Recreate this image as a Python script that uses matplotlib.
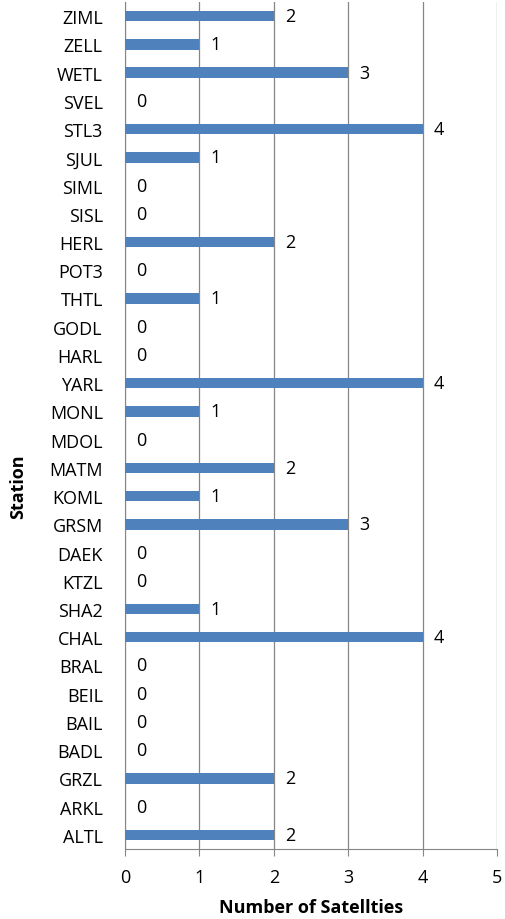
import matplotlib
matplotlib.use("Agg")
import matplotlib.pyplot as plt

stations = ["ALTL", "ARKL", "GRZL", "BADL", "BAIL", "BEIL", "BRAL", "CHAL", "SHA2", "KTZL",
            "DAEK", "GRSM", "KOML", "MATM", "MDOL", "MONL", "YARL", "HARL", "GODL", "THTL",
            "POT3", "HERL", "SISL", "SIML", "SJUL", "STL3", "SVEL", "WETL", "ZELL", "ZIML"]
satellites = [2, 0, 2, 0, 0, 0, 0, 4, 1, 0,
              0, 3, 1, 2, 0, 1, 4, 0, 0, 1,
              0, 2, 0, 0, 1, 4, 0, 3, 1, 2]
xticks = [0, 1, 2, 3, 4, 5]

plt.rcParams['font.family'] = ['Open Sans', 'DejaVu Sans']
FS = 13

fig = plt.figure(figsize=(5.06, 9.2), dpi=100)
ax = fig.add_axes([125/506, 70/920, 372/506, 847/920])

y = list(range(len(stations)))
ax.barh(y, satellites, height=0.37, color="#4F81BD", zorder=3)
for yi, v in zip(y, satellites):
    ax.annotate(str(v), xy=(v, yi), xytext=(8, 0), textcoords="offset points",
                va="center", ha="left", fontsize=FS, color="black")

ax.set_xlim(0, 5)
ax.set_ylim(-0.5, len(stations) - 0.5)
ax.set_xticks(xticks)
ax.set_yticks(y)
ax.set_yticklabels(stations, fontsize=FS)
ax.tick_params(axis='x', labelsize=FS, length=5, color="#868686", pad=9)
ax.tick_params(axis='y', length=0, pad=16)
ax.grid(axis='x', color="#868686", linewidth=0.9, zorder=0)
for s in ["top", "right"]:
    ax.spines[s].set_visible(False)
ax.spines["left"].set_color("#868686")
ax.spines["bottom"].set_color("#868686")

ax.set_xlabel("Number of Satellties", fontsize=FS, fontweight="bold", va="center")
ax.xaxis.set_label_coords(0.5, -0.0685)
ax.set_ylabel("Station", fontsize=FS, fontweight="bold", va="center", ha="center")
ax.yaxis.set_label_coords(-0.288, 0.4286)

fig.savefig("out.png", dpi=100)
